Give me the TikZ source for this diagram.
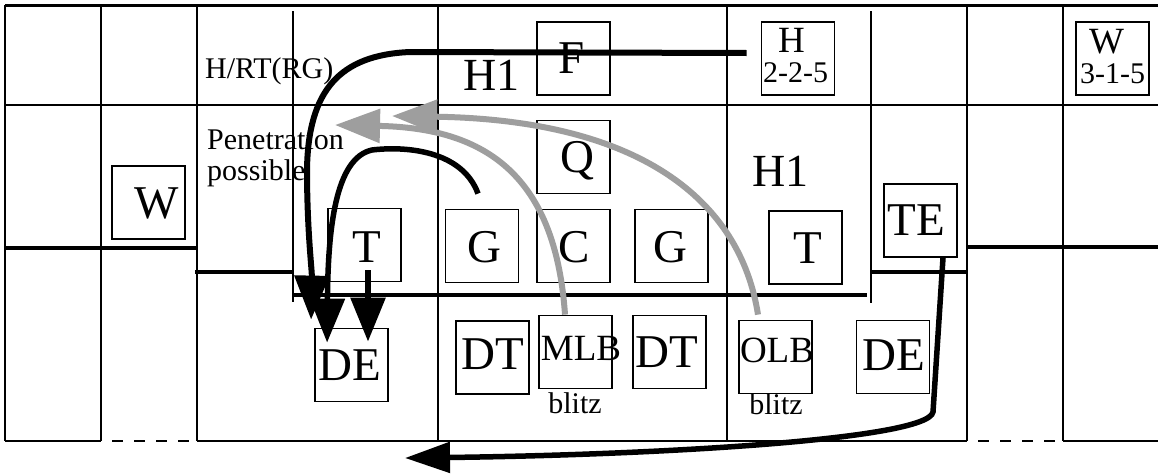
\documentclass[tikz,border=0pt]{standalone}
\usepackage{fontspec}
\setmainfont{Liberation Serif}
\usetikzlibrary{arrows.meta,calc}
\definecolor{blitzgray}{RGB}{158,158,158}
\begin{document}
\begin{tikzpicture}[x=1pt,y=-1pt,
  gridline/.style={line width=2pt},
  heavyline/.style={line width=4pt},
  pbox/.style={draw,line width=1.8pt,minimum width=73pt,minimum height=73pt,inner sep=0pt},
  bigtxt/.style={font=\fontsize{47}{47}\selectfont,inner sep=0pt,anchor=base},
  midtxt/.style={font=\fontsize{37}{37}\selectfont,inner sep=0pt,anchor=base},
  smalltxt/.style={font=\fontsize{30}{30}\selectfont,inner sep=0pt,anchor=base},
  noteleft/.style={font=\fontsize{30}{30}\selectfont,inner sep=0pt,anchor=base west},
  route/.style={line width=6pt,-{Triangle[length=44pt,width=34pt]}},
  blitzroute/.style={line width=6pt,draw=blitzgray,-{Triangle[length=45pt,width=33pt,fill=blitzgray]}},
]
\useasboundingbox (0,0) rectangle (1158,474);
\fill[white] (0,0) rectangle (1158,474);

% ---------- field grid ----------
\foreach \gx in {5,101,197,438,727,967,1063}
  \draw[gridline] (\gx,5) -- (\gx,441);
\draw[gridline] (293,11) -- (293,302);
\draw[gridline] (871,11) -- (871,303);
\draw[line width=3pt] (5,5) -- (1158,5);
\draw[gridline] (5,105) -- (1158,105);
\draw[heavyline] (5,248) -- (197,248);
\draw[heavyline] (967,247) -- (1158,247);
\draw[heavyline] (195,272) -- (293,272);
\draw[heavyline] (871,272) -- (967,272);
\draw[line width=4.5pt] (293,295) -- (867,295);
\draw[gridline] (5,441) -- (101,441);
\draw[gridline,dash pattern=on 11pt off 11pt,dash phase=11pt] (101,441) -- (197,441);
\draw[gridline] (197,441) -- (967,441);
\draw[gridline,dash pattern=on 11pt off 11pt,dash phase=11pt] (967,441) -- (1063,441);
\draw[gridline] (1063,441) -- (1158,441);

% ---------- player boxes ----------
\node[pbox] (Wl)  at (148.5,202.5) {};
\node[pbox] (Tl)  at (364.5,245) {};
\node[pbox] (Gl)  at (482,246) {};
\node[pbox] (Cc)  at (573.5,246) {};
\node[pbox] (Gr)  at (671.5,246) {};
\node[pbox] (Tr)  at (805.5,247.5) {};
\node[pbox] (TE)  at (920.5,220.5) {};
\node[pbox] (Qb)  at (573.5,157) {};
\node[pbox] (Fb)  at (573.5,58.5) {};
\node[pbox] (Hb)  at (798,58.5) {};
\node[pbox] (Wr)  at (1112.5,58.5) {};
\node[pbox] (DEl) at (351.5,365) {};
\node[pbox] (DTl) at (492.5,357.5) {};
\node[pbox] (MLB) at (575.5,352) {};
\node[pbox] (DTr) at (669.5,352) {};
\node[pbox] (OLB) at (775.5,357) {};
\node[pbox] (DEr) at (893,357) {};

% ---------- box labels ----------
\node[bigtxt] (tWl)  at (157,218) {W};
\node[bigtxt] (tTl)  at (367,262) {T};
\node[bigtxt] (tGl)  at (484,262) {G};
\node[bigtxt] (tCc)  at (574,262) {C};
\node[bigtxt] (tGr)  at (670,262) {G};
\node[bigtxt] (tTr)  at (807.5,263) {T};
\node[bigtxt] (tTE)  at (916.5,235) {TE};
\node[bigtxt] (tQb)  at (577,172) {Q};
\node[bigtxt] (tFb)  at (571.5,73) {F};
\node[bigtxt] (tDEl) at (350,380) {DE};
\node[bigtxt] (tDTl) at (492.5,369) {DT};
\node[midtxt] (tMLB) at (581,360) {MLB};
\node[bigtxt] (tDTr) at (667,367) {DT};
\node[midtxt] (tOLB) at (777,362) {OLB};
\node[bigtxt] (tDEr) at (893.5,370) {DE};
\node[smalltxt] (bz1) at (575,413) {blitz};
\node[smalltxt] (bz2) at (776,414) {blitz};
\node[midtxt] (tHb) at (791.5,52) {H};
\node[smalltxt] (nHb) at (795.5,82) {2-2-5};
\node[midtxt] (tWr) at (1106.5,53) {W};
\node[smalltxt] (nWr) at (1112.5,83) {3-1-5};

% ---------- notes ----------
\node[noteleft] (hrt) at (205,78) {H/RT(RG)};
\node[noteleft] (pen1) at (207,149) {Penetration};
\node[noteleft] (pen2) at (207,180) {possible};
\node[font=\fontsize{46}{46}\selectfont,inner sep=0pt,anchor=base west] (h1a) at (463,90) {H1};
\node[font=\fontsize{46}{46}\selectfont,inner sep=0pt,anchor=base west] (h1b) at (752,186) {H1};

% ---------- coordinates ----------
\coordinate (mlbtip) at (335,125);
\coordinate (olbtip) at (392,116);
\coordinate (tetip)  at (405,458);

% ---------- blitz routes (gray) ----------
\draw[blitzroute] ($(MLB.north)+(-10.5,0)$) .. controls (555,170) and (480,128) .. (mlbtip);
\draw[blitzroute] ($(OLB.north)+(-17.5,-5)$) .. controls (740,200) and (640,120) .. (olbtip);

% ---------- black routes ----------
\draw[route] ($(Hb.west)+(-14,-5.5)$) -- (410,52)
   .. controls (340,55) and (308,90) .. (307,170)
   .. controls (307,230) and (312,270) .. ($(DEl.north west)+(-3,-8)$);
\draw[route,line width=5.5pt] ($(Gl.north)+(-4,-15)$) .. controls (462,150) and (405,146) .. (372,150)
   .. controls (335,158) and (328,230) .. ($(DEl.north west)+(13,15)$);
\draw[route] ($(Tl.south)+(3.5,-12)$) -- ($(DEl.north)+(16.5,14)$);
\draw[line width=5.5pt,-{Triangle[length=45pt,width=30pt]}] ($(TE.south)+(22.5,0)$) -- (933,412)
   .. controls (928,440) and (650,455) .. (tetip);
\end{tikzpicture}
\end{document}
